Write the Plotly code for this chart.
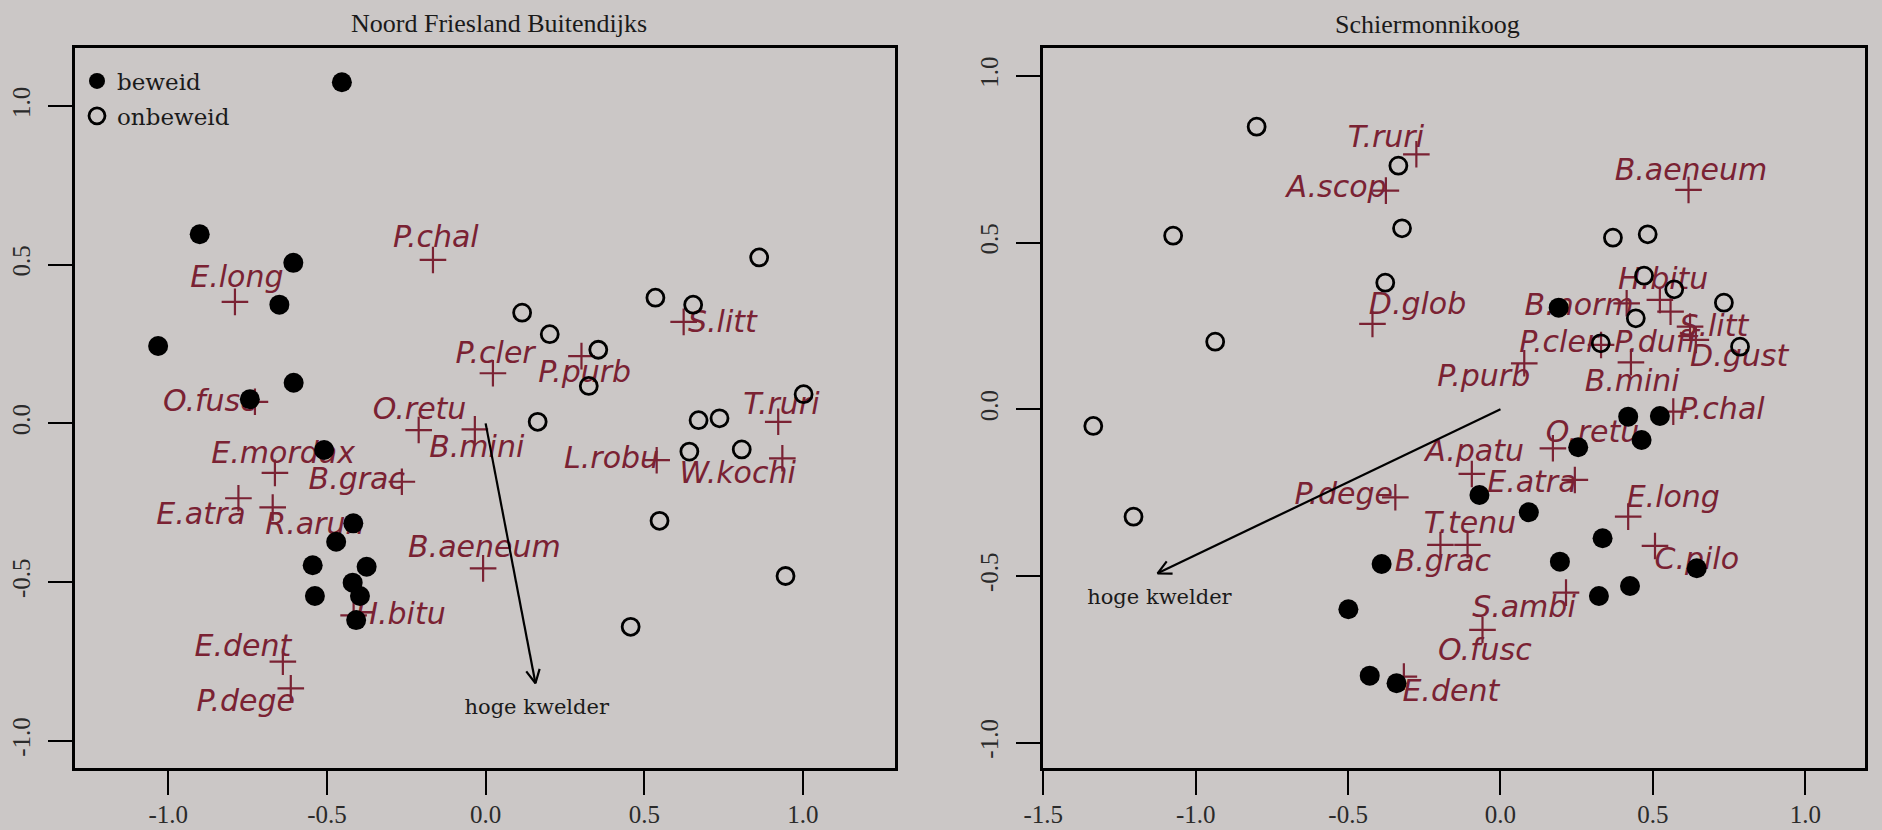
import math
import plotly.graph_objects as go

# ---------------- data: Noord Friesland Buitendijks ----------------
nf_grazed_x = [-0.453, -0.901, -0.606, -0.650, -1.032, -0.605, -0.743, -0.509,
               -0.417, -0.471, -0.545, -0.375, -0.419, -0.538, -0.396, -0.408]
nf_grazed_y = [1.075, 0.596, 0.506, 0.374, 0.244, 0.128, 0.076, -0.084,
               -0.315, -0.373, -0.447, -0.452, -0.502, -0.544, -0.544, -0.620]
nf_ungrazed_x = [0.862, 0.535, 0.654, 0.115, 0.202, 0.355, 0.325, 1.002,
                 0.164, 0.671, 0.737, 0.642, 0.807, 0.548, 0.945, 0.457]
nf_ungrazed_y = [0.523, 0.396, 0.374, 0.349, 0.281, 0.232, 0.118, 0.092,
                 0.005, 0.010, 0.016, -0.089, -0.082, -0.307, -0.481, -0.641]
nf_species = ["P.chal", "E.long", "S.litt", "P.cler", "P.purb", "T.ruri", "O.fusc",
              "O.retu", "B.mini", "E.mordax", "B.grac", "E.atra", "R.arun", "B.aeneum",
              "L.robu", "W.kochi", "H.bitu", "E.dent", "P.dege"]
nf_species_x = [-0.166, -0.790, 0.624, 0.023, 0.302, 0.922, -0.727, -0.211, -0.034,
                -0.664, -0.264, -0.779, -0.671, -0.008, 0.539, 0.935, -0.416, -0.639, -0.614]
nf_species_y = [0.515, 0.383, 0.320, 0.158, 0.212, 0.005, 0.068, -0.021, -0.019,
                -0.156, -0.184, -0.236, -0.265, -0.457, -0.116, -0.110, -0.605, -0.751, -0.835]
# label offsets (data units) relative to each species cross
nf_label_dx = [0.009, 0.006, 0.122, 0.007, 0.010, 0.010, -0.142, 0.003, 0.006,
               0.026, -0.142, -0.118, 0.133, 0.004, -0.142, -0.141, 0.148, -0.126, -0.142]
nf_label_dy = [0.063, 0.069, -0.007, 0.057, -0.058, 0.047, -0.005, 0.058, -0.063,
               0.056, 0.000, -0.058, -0.059, 0.060, 0.000, -0.053, -0.004, 0.042, -0.047]
nf_arrow = (0.157, -0.819)
nf_arrow_label = (0.161, -0.898)

# ---------------- data: Schiermonnikoog ----------------
sm_grazed_x = [0.191, 0.419, 0.523, 0.255, 0.463, -0.069, 0.093, 0.335,
               -0.390, 0.195, 0.644, 0.425, 0.323, -0.499, -0.429, -0.341]
sm_grazed_y = [0.305, -0.022, -0.020, -0.114, -0.092, -0.257, -0.309, -0.387,
               -0.464, -0.457, -0.477, -0.530, -0.560, -0.600, -0.799, -0.822]
sm_ungrazed_x = [-0.800, -0.335, -1.074, -0.323, 0.369, 0.483, -0.378, 0.471,
                 0.570, 0.733, 0.444, 0.329, 0.786, -0.936, -1.336, -1.204]
sm_ungrazed_y = [0.848, 0.731, 0.521, 0.543, 0.515, 0.525, 0.380, 0.401,
                 0.360, 0.320, 0.273, 0.198, 0.188, 0.203, -0.050, -0.322]
sm_species = ["T.ruri", "A.scop", "B.aeneum", "D.glob", "B.norm", "H.bitu", "S.litt",
              "P.cler", "P.duff", "D.gust", "B.mini", "P.purb", "P.chal", "O.retu",
              "A.patu", "E.atra", "P.dege", "E.long", "T.tenu", "B.grac", "C.pilo",
              "S.ambi", "O.fusc", "E.dent"]
sm_species_x = [-0.276, -0.376, 0.617, -0.420, 0.414, 0.523, 0.558, 0.330, 0.622,
                0.641, 0.428, 0.078, 0.567, 0.172, -0.094, 0.244, -0.345, 0.419,
                -0.108, -0.197, 0.507, 0.215, -0.059, -0.317]
sm_species_y = [0.765, 0.656, 0.658, 0.256, 0.318, 0.328, 0.293, 0.193, 0.248,
                0.208, 0.141, 0.138, -0.007, -0.117, -0.194, -0.212, -0.264, -0.322,
                -0.407, -0.407, -0.410, -0.550, -0.662, -0.802]
sm_label_dx = [-0.100, -0.162, 0.008, 0.148, -0.156, 0.011, 0.142, -0.139, -0.112,
               0.142, 0.004, -0.133, 0.159, 0.130, 0.009, -0.141, -0.169, 0.148,
               0.008, 0.008, 0.137, -0.138, 0.008, 0.154]
sm_label_dy = [0.045, 0.004, 0.052, 0.052, -0.013, 0.055, -0.050, 0.000, -0.055,
               -0.055, -0.063, -0.045, 0.000, 0.040, 0.062, -0.015, 0.002, 0.052,
               0.057, -0.055, -0.047, -0.052, -0.067, -0.050]
sm_arrow = (-1.125, -0.492)
sm_arrow_label = (-1.119, -0.567)

nf_xticks = [-1.0, -0.5, 0.0, 0.5, 1.0]
nf_xticklabels = ["-1.0", "-0.5", "0.0", "0.5", "1.0"]
sm_xticks = [-1.5, -1.0, -0.5, 0.0, 0.5, 1.0]
sm_xticklabels = ["-1.5", "-1.0", "-0.5", "0.0", "0.5", "1.0"]
yticks = [-1.0, -0.5, 0.0, 0.5, 1.0]
yticklabels = ["-1.0", "-0.5", "0.0", "0.5", "1.0"]

titles = ["Noord Friesland Buitendijks", "Schiermonnikoog"]
legend_names = ["beweid", "onbeweid"]
arrow_text = "hoge kwelder"

# ---------------- styling / layout ----------------
W, H = 1882, 830
BG = "#cbc7c6"
RED = "#7a2233"
TXT = "#1a1a1a"

nf_xrange = [-1.294, 1.290]
nf_yrange = [-1.087, 1.182]
sm_xrange = [-1.501, 1.196]
sm_yrange = [-1.077, 1.083]
nf_xdom = [75 / W, 895 / W]
sm_xdom = [1043 / W, 1865 / W]
ydom = [1 - 768.3 / H, 1 - 48.3 / H]

fig = go.Figure()


def add_panel(xa, ya, sp, sx, sy, lx, ly, gx, gy, ux, uy, arrow, arrow_lab,
              xrange, yrange, xdom, show_legend):
    # pixel scale per data unit (for arrow head geometry)
    pxx = (xdom[1] - xdom[0]) * W / (xrange[1] - xrange[0])
    pxy = (ydom[1] - ydom[0]) * H / (yrange[1] - yrange[0])

    fig.add_trace(go.Scatter(
        x=sx, y=sy, mode="markers", xaxis=xa, yaxis=ya, showlegend=False,
        hoverinfo="skip",
        marker=dict(symbol="cross-thin", size=19, color=RED,
                    line=dict(color=RED, width=2.2))))
    fig.add_trace(go.Scatter(
        x=[a + b for a, b in zip(sx, lx)], y=[a + b for a, b in zip(sy, ly)],
        mode="text", text=sp, xaxis=xa, yaxis=ya, showlegend=False,
        textposition="middle center", hoverinfo="skip",
        textfont=dict(family="DejaVu Sans", size=30, color=RED, style="italic")))

    # arrow (body + open head)
    ax, ay = arrow
    fig.add_trace(go.Scatter(
        x=[0, ax], y=[0, ay], mode="lines", xaxis=xa, yaxis=ya, showlegend=False,
        hoverinfo="skip", line=dict(color="black", width=2.2)))
    ang = math.atan2(ay * pxy, ax * pxx)
    L, a = 15, math.radians(27)
    hx = [ax - L * math.cos(ang + a) / pxx, ax, ax - L * math.cos(ang - a) / pxx]
    hy = [ay - L * math.sin(ang + a) / pxy, ay, ay - L * math.sin(ang - a) / pxy]
    fig.add_trace(go.Scatter(
        x=hx, y=hy, mode="lines", xaxis=xa, yaxis=ya, showlegend=False,
        hoverinfo="skip", line=dict(color="black", width=2.2)))
    fig.add_trace(go.Scatter(
        x=[arrow_lab[0]], y=[arrow_lab[1]], mode="text", text=[arrow_text],
        xaxis=xa, yaxis=ya, showlegend=False, hoverinfo="skip",
        textfont=dict(family="DejaVu Serif", size=21, color=TXT)))

    fig.add_trace(go.Scatter(
        x=gx, y=gy, mode="markers", name=legend_names[0], xaxis=xa, yaxis=ya,
        showlegend=show_legend, legendgroup="g1",
        marker=dict(symbol="circle", size=20, color="black",
                    line=dict(width=0))))
    fig.add_trace(go.Scatter(
        x=ux, y=uy, mode="markers", name=legend_names[1], xaxis=xa, yaxis=ya,
        showlegend=show_legend, legendgroup="g2",
        marker=dict(symbol="circle-open", size=17, color="black",
                    line=dict(width=2.8, color="black"))))


add_panel("x", "y", nf_species, nf_species_x, nf_species_y, nf_label_dx, nf_label_dy,
          nf_grazed_x, nf_grazed_y, nf_ungrazed_x, nf_ungrazed_y, nf_arrow,
          nf_arrow_label, nf_xrange, nf_yrange, nf_xdom, True)
add_panel("x2", "y2", sm_species, sm_species_x, sm_species_y, sm_label_dx, sm_label_dy,
          sm_grazed_x, sm_grazed_y, sm_ungrazed_x, sm_ungrazed_y, sm_arrow,
          sm_arrow_label, sm_xrange, sm_yrange, sm_xdom, False)

axis_common = dict(showline=True, mirror=True, linecolor="black", linewidth=2.6,
                   ticks="outside", ticklen=24, tickwidth=2.4, tickcolor="black",
                   showgrid=False, zeroline=False, automargin=False,
                   tickfont=dict(family="Liberation Serif", size=25, color="#2a2a2a"))

fig.update_layout(
    width=W, height=H,
    margin=dict(l=0, r=0, t=0, b=0, autoexpand=False),
    paper_bgcolor=BG, plot_bgcolor=BG,
    xaxis=dict(domain=nf_xdom, range=nf_xrange, tickvals=nf_xticks,
               ticktext=nf_xticklabels, anchor="y", ticklabelstandoff=-2, **axis_common),
    yaxis=dict(domain=ydom, range=nf_yrange, tickvals=yticks, ticktext=yticklabels,
               anchor="x", tickangle=-90, ticklabelstandoff=8, **axis_common),
    xaxis2=dict(domain=sm_xdom, range=sm_xrange, tickvals=sm_xticks,
                ticktext=sm_xticklabels, anchor="y2", ticklabelstandoff=-2, **axis_common),
    yaxis2=dict(domain=ydom, range=sm_yrange, tickvals=yticks, ticktext=yticklabels,
                anchor="x2", tickangle=-90, ticklabelstandoff=8, **axis_common),
    showlegend=True,
    legend=dict(x=77 / W, y=1 - 59.5 / H, xanchor="left", yanchor="top",
                bgcolor="rgba(0,0,0,0)", borderwidth=0, itemsizing="trace",
                traceorder="grouped", tracegroupgap=2,
                font=dict(family="DejaVu Serif", size=23, color=TXT)),
    annotations=[
        dict(text=titles[0], x=499 / W, y=1 - 23.5 / H, xref="paper", yref="paper",
             showarrow=False, xanchor="center", yanchor="middle",
             font=dict(family="Liberation Serif", size=26, color=TXT)),
        dict(text=titles[1], x=1427 / W, y=1 - 24 / H, xref="paper", yref="paper",
             showarrow=False, xanchor="center", yanchor="middle",
             font=dict(family="Liberation Serif", size=26, color=TXT)),
    ],
)

fig.write_html("out.html", config={"displayModeBar": False},
               post_script="document.body.style.margin='0';")
